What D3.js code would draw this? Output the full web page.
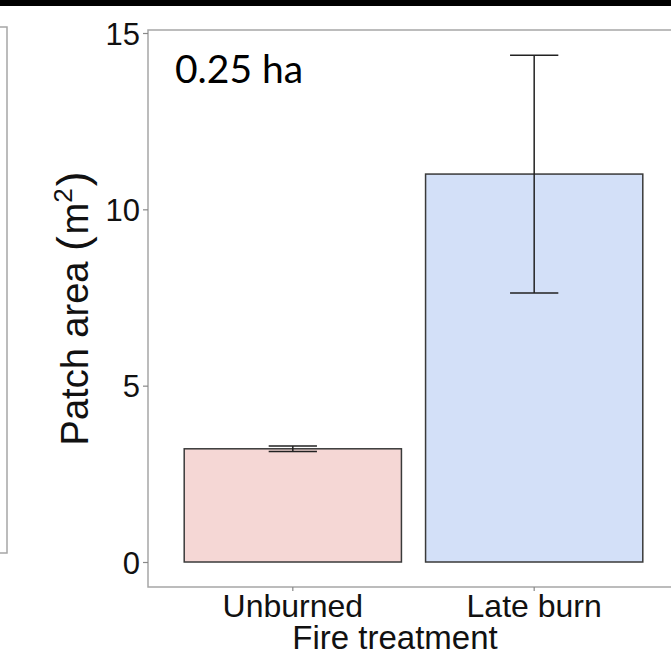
<!DOCTYPE html>
<html>
<head>
<meta charset="utf-8">
<script src="https://cdn.jsdelivr.net/npm/d3@7"></script>
<style>
  html, body { margin: 0; padding: 0; background: #fff; }
  svg { display: block; }
</style>
</head>
<body>
<svg id="chart" width="671" height="657"></svg>
<script>
// ---- data ----
const categories = ["Unburned", "Late burn"];
const meanArea = [3.21, 11.0];
const seArea = [0.08, 3.37];
const fillColors = ["#f5d7d5", "#d3e0f8"];
const yTicks = [0, 5, 10, 15];
const panelLabel = "0.25 ha";
const xTitle = "Fire treatment";

const data = categories.map((c, i) => ({ cat: c, mean: meanArea[i], se: seArea[i], fill: fillColors[i] }));

// ---- layout ----
const W = 671, H = 657;
const panel = { left: 148, right: 679, top: 30, bottom: 587 };
const svg = d3.select("#chart");
const font = "'Liberation Sans', Arial, sans-serif";

// top black strip (edge of the source figure)
svg.append("rect").attr("x", 0).attr("y", 0).attr("width", W).attr("height", 6).attr("fill", "#000");

// partial neighbouring panel at left edge
svg.append("path")
  .attr("d", "M0,27H7V553H0")
  .attr("fill", "none").attr("stroke", "#a6a6a6").attr("stroke-width", 1.5);

// ---- scales ----
const x = d3.scaleBand().domain(categories)
  .range([panel.left, panel.right]).paddingInner(0.1).paddingOuter(0.15);
const y = d3.scaleLinear().domain([0, 15]).range([562, 33]);

// panel border
svg.append("rect")
  .attr("x", panel.left).attr("y", panel.top)
  .attr("width", panel.right - panel.left).attr("height", panel.bottom - panel.top)
  .attr("fill", "none").attr("stroke", "#a6a6a6").attr("stroke-width", 1.5);

// bars
svg.append("g").selectAll("rect").data(data).join("rect")
  .attr("x", d => x(d.cat))
  .attr("width", x.bandwidth())
  .attr("y", d => y(d.mean))
  .attr("height", d => y(0) - y(d.mean))
  .attr("fill", d => d.fill)
  .attr("stroke", "#3a3a3a").attr("stroke-width", 1.5);

// error bars
const capW = x.step() * 0.2;
const eb = svg.append("g").attr("stroke", "#222").attr("stroke-width", 1.5).attr("fill", "none");
data.forEach(d => {
  const cx = x(d.cat) + x.bandwidth() / 2;
  eb.append("line").attr("x1", cx).attr("x2", cx).attr("y1", y(d.mean + d.se)).attr("y2", y(d.mean - d.se));
  eb.append("line").attr("x1", cx - capW / 2).attr("x2", cx + capW / 2).attr("y1", y(d.mean + d.se)).attr("y2", y(d.mean + d.se));
  eb.append("line").attr("x1", cx - capW / 2).attr("x2", cx + capW / 2).attr("y1", y(d.mean - d.se)).attr("y2", y(d.mean - d.se));
});

// y axis
const yAxis = svg.append("g").attr("transform", `translate(${panel.left},0)`)
  .call(d3.axisLeft(y).tickValues(yTicks).tickFormat(d3.format("d")).tickSize(5).tickPadding(3));
yAxis.select(".domain").remove();
yAxis.selectAll(".tick line").attr("stroke", "#888").attr("stroke-width", 1.2);
yAxis.selectAll(".tick text").attr("font-family", font).attr("font-size", 31).attr("fill", "#111")
  .attr("dy", "0.36em");

// x axis
const xAxis = svg.append("g").attr("transform", `translate(0,${panel.bottom})`)
  .call(d3.axisBottom(x).tickSize(4).tickPadding(3));
xAxis.select(".domain").remove();
xAxis.selectAll(".tick line").attr("stroke", "#888").attr("stroke-width", 1.2);
xAxis.selectAll(".tick text").attr("font-family", font).attr("font-size", 32).attr("fill", "#111")
  .attr("dy", null).attr("y", 30);

// x title
svg.append("text")
  .attr("x", 395).attr("y", 649)
  .attr("text-anchor", "middle")
  .attr("font-family", font).attr("font-size", 33).attr("fill", "#111")
  .text(xTitle);

// y title: Patch area (m^2)
const yt = svg.append("text")
  .attr("transform", `translate(88,${(panel.top + panel.bottom) / 2}) rotate(-90)`)
  .attr("text-anchor", "middle")
  .attr("font-family", font).attr("font-size", 38).attr("fill", "#111");
yt.append("tspan").text("Patch area ");
yt.append("tspan").attr("font-size", 44).text("(");
yt.append("tspan").attr("dx", 2).text("m");
yt.append("tspan").attr("font-size", 26).attr("dy", -16).text("2");
yt.append("tspan").attr("font-size", 44).attr("dy", 16).attr("dx", 2).text(")");

// panel label
svg.append("text")
  .attr("x", 175).attr("y", 83)
  .attr("font-family", "Lato, 'Open Sans', sans-serif").attr("font-size", 39).attr("fill", "#000")
  .text(panelLabel);
</script>
</body>
</html>
